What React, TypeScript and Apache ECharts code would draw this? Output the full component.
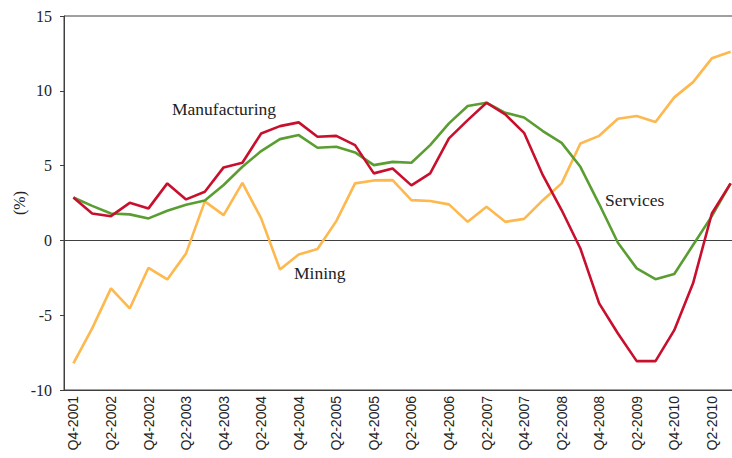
import React, { useEffect, useRef } from "react";
import * as echarts from "echarts";

const categories = [
  "Q4-2001", "Q1-2002", "Q2-2002", "Q3-2002", "Q4-2002", "Q1-2003", "Q2-2003", "Q3-2003",
  "Q4-2003", "Q1-2004", "Q2-2004", "Q3-2004", "Q4-2004", "Q1-2005", "Q2-2005", "Q3-2005",
  "Q4-2005", "Q1-2006", "Q2-2006", "Q3-2006", "Q4-2006", "Q1-2007", "Q2-2007", "Q3-2007",
  "Q4-2007", "Q1-2008", "Q2-2008", "Q3-2008", "Q4-2008", "Q1-2009", "Q2-2009", "Q3-2009",
  "Q4-2010", "Q1-2010", "Q2-2010", "Q3-2010",
];

const manufacturing = [
  2.87, 1.8, 1.62, 2.51, 2.14, 3.81, 2.74, 3.25, 4.88, 5.19, 7.15, 7.64, 7.89, 6.93, 6.99, 6.37,
  4.48, 4.81, 3.68, 4.48, 6.82, 8.04, 9.2, 8.42, 7.19, 4.36, 2.03, -0.54, -4.21, -6.22, -8.07, -8.07,
  -6.0, -2.87, 1.8, 3.81,
];

const services = [
  2.87, 2.31, 1.8, 1.74, 1.47, 1.98, 2.38, 2.67, 3.7, 4.92, 5.97, 6.77, 7.04, 6.19, 6.26, 5.88,
  5.03, 5.25, 5.19, 6.37, 7.82, 8.98, 9.2, 8.53, 8.22, 7.31, 6.52, 4.92, 2.43, -0.16, -1.87, -2.59,
  -2.25, -0.31, 1.62, 3.81,
];

const mining = [
  -8.22, -5.88, -3.21, -4.55, -1.83, -2.61, -0.87, 2.61, 1.69, 3.85, 1.47, -1.94, -0.94, -0.58, 1.29, 3.81,
  4.01, 4.03, 2.69, 2.63, 2.41, 1.24, 2.25, 1.24, 1.44, 2.69, 3.81, 6.48, 6.99, 8.13, 8.31, 7.91,
  9.56, 10.58, 12.17, 12.61,
];

const axisColor = "#404040";
const serif = "'Liberation Serif', 'Times New Roman', serif";

export default function App() {
  const ref = useRef<HTMLDivElement>(null);

  useEffect(() => {
    if (!ref.current) return;
    const chart = echarts.init(ref.current, undefined, { renderer: "svg" });
    const lineSeries = (name: string, data: number[], color: string, z: number) => ({
      name,
      type: "line",
      data,
      symbol: "none",
      z,
      lineStyle: { color, width: 2.6 },
      itemStyle: { color },
    });
    chart.setOption({
      animation: false,
      backgroundColor: "#ffffff",
      grid: {
        left: 64,
        right: 1,
        top: 16,
        bottom: 68,
        show: true,
        borderColor: axisColor,
        borderWidth: 1,
      },
      xAxis: {
        type: "category",
        data: categories,
        boundaryGap: true,
        axisLine: { onZero: false, lineStyle: { color: axisColor, width: 1 } },
        axisTick: { interval: 0, length: 5, lineStyle: { color: axisColor } },
        axisLabel: {
          interval: 1,
          rotate: 90,
          margin: 6,
          color: "#222",
          fontSize: 14,
          fontFamily: "'Liberation Sans', Arial, sans-serif",
        },
        splitLine: { show: false },
      },
      yAxis: {
        type: "value",
        min: -10,
        max: 15,
        interval: 5,
        axisLine: { show: true, lineStyle: { color: axisColor, width: 1 } },
        axisTick: { show: true, length: 4, lineStyle: { color: axisColor } },
        axisLabel: { margin: 12, color: "#222", fontSize: 16, fontFamily: serif },
        splitLine: { show: false },
      },
      series: [
        lineSeries("Mining", mining, "#FDB84E", 2),
        {
          ...lineSeries("Services", services, "#5A9E32", 3),
          markLine: {
            silent: true,
            symbol: "none",
            label: { show: false },
            lineStyle: { color: axisColor, width: 1, type: "solid" },
            data: [{ yAxis: 0 }],
            z: 1,
          },
        },
        lineSeries("Manufacturing", manufacturing, "#C8102E", 4),
      ],
      graphic: [
        {
          type: "text",
          left: 11,
          top: 191,
          rotation: Math.PI / 2,
          style: { text: "(%)", font: `16px ${serif}`, fill: "#222" },
        },
        {
          type: "text",
          x: 172,
          y: 109,
          style: { text: "Manufacturing", font: `17.5px ${serif}`, fill: "#222", textVerticalAlign: "middle" },
        },
        {
          type: "text",
          x: 294,
          y: 273,
          style: { text: "Mining", font: `17.5px ${serif}`, fill: "#222", textVerticalAlign: "middle" },
        },
        {
          type: "text",
          x: 605,
          y: 200,
          style: { text: "Services", font: `17.5px ${serif}`, fill: "#222", textVerticalAlign: "middle" },
        },
      ],
    });
    return () => chart.dispose();
  }, []);

  return (
    <div
      style={{
        position: "fixed",
        left: 0,
        top: 0,
        width: 732,
        height: 458,
        overflow: "hidden",
        background: "#fff",
      }}
    >
      <div ref={ref} style={{ width: 741, height: 458 }} />
    </div>
  );
}
